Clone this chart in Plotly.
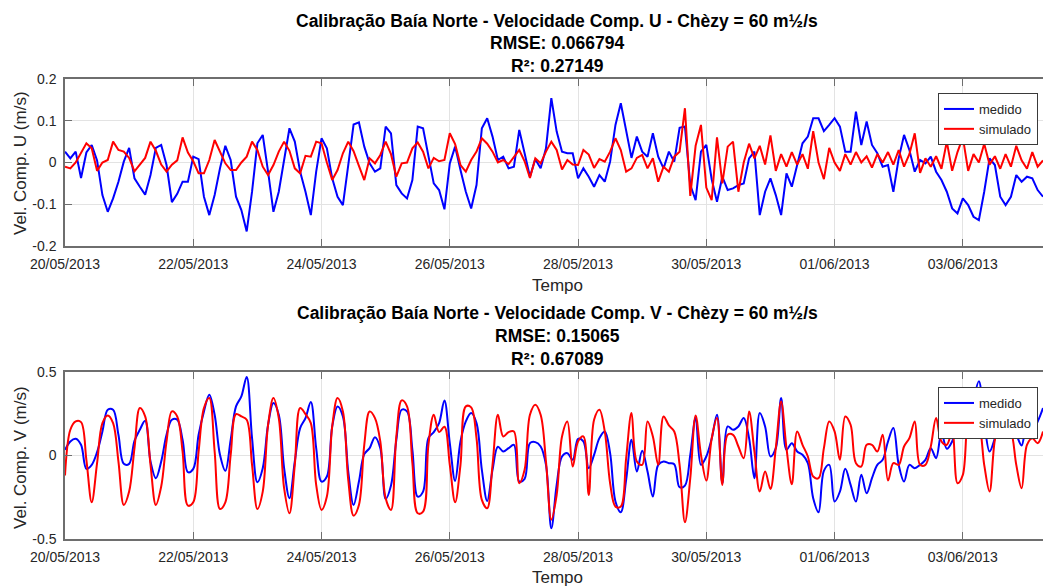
import pandas as pd
import plotly.graph_objects as go

# Samples every 2 h starting 20/05/2013 00:00
inicio = "2013-05-20 00:00"
passo = "2h"

# Componente U (m/s) - medido
u_medido = [
    0.026, 0.010, 0.026, -0.037, 0.024, 0.042, 0.005, -0.078, -0.118, -0.086, -0.046, 0.002,
    0.035, -0.038, -0.058, -0.077, -0.030, 0.035, 0.042, -0.006, -0.095, -0.075, -0.046, -0.046,
    0.014, 0.008, -0.082, -0.126, -0.078, -0.014, 0.040, 0.006, -0.082, -0.114, -0.165, -0.070,
    0.046, 0.066, -0.022, -0.118, -0.070, 0.010, 0.082, 0.050, -0.022, -0.070, -0.126, -0.022,
    0.058, 0.034, -0.038, -0.082, -0.102, -0.006, 0.091, 0.096, 0.038, -0.002, -0.022, -0.014,
    0.086, 0.070, -0.054, -0.074, -0.086, -0.042, 0.086, 0.082, 0.014, -0.050, -0.066, -0.112,
    -0.002, 0.038, -0.018, -0.070, -0.110, -0.054, 0.082, 0.106, 0.062, 0.006, 0.014, -0.014,
    -0.010, 0.078, 0.022, -0.034, 0.008, -0.014, 0.034, 0.154, 0.074, 0.026, 0.022, 0.022,
    -0.038, -0.014, -0.034, -0.058, -0.030, -0.046, 0.002, 0.090, 0.142, 0.074, 0.011, 0.062,
    0.026, 0.014, 0.070, 0.014, -0.014, 0.026, 0.002, 0.083, 0.086, -0.054, -0.090, 0.026,
    0.042, -0.040, -0.094, -0.034, -0.066, -0.062, -0.054, -0.050, 0.010, 0.026, -0.126, -0.070,
    -0.038, -0.078, -0.126, -0.026, -0.058, -0.006, 0.046, 0.062, 0.106, 0.106, 0.075, 0.090,
    0.106, 0.086, 0.026, 0.026, 0.122, 0.042, 0.098, 0.042, 0.022, -0.010, -0.006, -0.070,
    0.010, 0.066, 0.030, -0.022, 0.006, -0.002, 0.014, -0.022, -0.042, -0.070, -0.110, -0.122,
    -0.086, -0.102, -0.130, -0.138, -0.070, 0.010, -0.006, -0.082, -0.102, -0.082, -0.030, -0.046,
    -0.034, -0.038, -0.066, -0.082,
]

# Componente U (m/s) - simulado
u_simulado = [
    -0.010, -0.014, 0.000, 0.022, 0.046, 0.034, -0.020, 0.000, 0.006, 0.050, 0.030, 0.026,
    0.011, -0.021, -0.006, 0.011, 0.050, 0.028, -0.005, -0.022, -0.005, 0.005, 0.060, 0.024,
    0.003, -0.026, -0.026, 0.006, 0.054, 0.026, -0.002, -0.018, -0.018, 0.000, 0.014, 0.050,
    0.030, -0.010, -0.030, -0.006, 0.026, 0.050, 0.028, -0.014, -0.026, 0.016, 0.014, 0.050,
    0.046, 0.000, -0.042, -0.018, 0.022, 0.050, 0.027, -0.008, -0.042, 0.010, -0.002, 0.018,
    0.050, 0.020, -0.034, -0.002, 0.000, 0.034, 0.048, 0.026, -0.014, 0.011, 0.003, 0.006,
    0.070, 0.044, -0.006, -0.022, 0.006, 0.026, 0.058, 0.045, 0.026, 0.000, 0.006, -0.004,
    0.014, 0.030, 0.003, -0.037, 0.010, -0.002, 0.026, 0.050, 0.030, -0.017, 0.006, -0.005,
    -0.006, 0.030, 0.019, -0.013, 0.008, 0.002, 0.026, 0.058, 0.030, -0.022, -0.014, 0.011,
    0.018, -0.014, 0.010, -0.046, -0.010, -0.022, 0.014, 0.026, 0.130, -0.080, 0.040, 0.090,
    -0.060, -0.090, 0.060, -0.050, 0.038, 0.050, -0.070, 0.000, 0.045, 0.010, 0.040, -0.005,
    0.065, -0.020, 0.020, -0.010, 0.025, -0.005, 0.020, -0.015, 0.075, 0.000, -0.040, 0.035,
    0.000, -0.020, 0.020, -0.005, 0.025, 0.000, 0.015, -0.012, 0.020, 0.000, 0.025, -0.005,
    0.030, -0.010, 0.020, 0.070, -0.025, 0.010, -0.010, 0.015, -0.015, 0.050, -0.020, 0.025,
    0.060, -0.020, 0.020, 0.000, 0.045, -0.005, 0.015, -0.015, 0.020, -0.010, 0.040, 0.005,
    -0.015, 0.025, -0.010, 0.005,
]

# Componente V (m/s) - medido
v_medido = [
    0.034, 0.084, 0.100, 0.064, -0.080, -0.056, 0.020, 0.144, 0.274, 0.274, 0.124, -0.050,
    -0.050, 0.088, 0.154, 0.208, -0.036, -0.136, -0.036, 0.124, 0.214, 0.214, 0.094, -0.100,
    -0.080, 0.124, 0.264, 0.364, 0.244, 0.004, -0.092, 0.094, 0.294, 0.354, 0.470, 0.104,
    -0.160, -0.076, 0.184, 0.314, 0.244, -0.076, -0.256, -0.036, 0.164, 0.224, 0.320, 0.044,
    -0.156, -0.126, 0.174, 0.294, 0.234, -0.096, -0.296, -0.156, 0.008, 0.044, 0.110, 0.044,
    -0.260, -0.180, 0.094, 0.274, 0.264, 0.034, -0.246, -0.216, 0.104, 0.140, 0.194, 0.330,
    0.074, -0.152, 0.084, 0.204, 0.254, 0.194, -0.086, -0.272, -0.086, 0.052, 0.024, 0.044,
    0.064, -0.156, -0.140, 0.074, 0.080, 0.054, -0.056, -0.436, -0.176, -0.006, 0.014, -0.026,
    0.100, 0.084, -0.076, 0.004, 0.104, 0.144, 0.014, -0.276, -0.340, -0.146, 0.094, -0.096,
    0.028, -0.096, -0.246, -0.056, -0.036, -0.046, -0.052, -0.190, -0.180, 0.004, 0.224, -0.056,
    -0.006, 0.100, 0.244, -0.166, 0.174, 0.154, 0.174, 0.224, 0.104, -0.136, 0.254, 0.174,
    -0.006, 0.044, 0.344, 0.034, 0.074, 0.024, 0.004, -0.046, -0.256, -0.340, -0.092, -0.056,
    -0.276, -0.216, -0.080, -0.176, -0.276, -0.116, -0.226, -0.136, -0.056, -0.026, 0.084, 0.164,
    -0.056, -0.156, -0.056, -0.076, -0.056, -0.026, 0.044, -0.016, 0.134, 0.040, 0.084, 0.188,
    0.104, 0.154, 0.324, 0.444, 0.204, 0.024, 0.104, 0.234, 0.244, 0.174, 0.124, 0.060,
    0.188, 0.154, 0.204, 0.284,
]

# Componente V (m/s) - simulado
v_simulado = [
    -0.120, 0.154, 0.204, 0.200, -0.026, -0.280, -0.046, 0.194, 0.240, 0.194, -0.036, -0.296,
    -0.216, 0.044, 0.284, 0.234, -0.056, -0.296, -0.186, 0.084, 0.264, 0.234, 0.024, -0.300,
    -0.280, 0.024, 0.284, 0.344, 0.024, -0.320, -0.280, 0.004, 0.248, 0.234, 0.214, -0.056,
    -0.320, -0.216, 0.184, 0.344, 0.224, -0.196, -0.346, -0.056, 0.284, 0.248, 0.194, -0.176,
    -0.326, -0.246, 0.174, 0.344, 0.264, -0.146, -0.360, -0.296, 0.064, 0.264, 0.224, 0.084,
    -0.256, -0.326, 0.114, 0.330, 0.294, -0.046, -0.346, -0.336, 0.064, 0.244, 0.140, 0.172,
    -0.056, -0.280, -0.056, 0.294, 0.288, 0.104, -0.266, -0.316, -0.056, 0.244, 0.114, 0.140,
    0.144, -0.166, -0.086, 0.244, 0.304, 0.244, -0.036, -0.384, -0.236, 0.114, 0.204, -0.066,
    0.084, 0.114, -0.236, 0.214, 0.274, 0.144, -0.166, -0.306, -0.306, -0.016, 0.254, -0.036,
    -0.056, 0.204, 0.114, -0.056, 0.234, 0.180, 0.144, -0.056, -0.400, -0.136, 0.240, 0.004,
    -0.150, 0.100, 0.224, -0.176, 0.124, 0.124, 0.054, -0.016, 0.264, 0.024, -0.216, -0.096,
    -0.200, 0.044, 0.324, 0.044, -0.172, 0.144, 0.064, -0.006, -0.126, -0.136, 0.044, 0.204,
    0.144, -0.026, 0.234, 0.184, -0.046, -0.066, 0.064, 0.064, 0.024, 0.124, -0.150, -0.046,
    -0.056, 0.054, 0.104, 0.204, -0.056, -0.056, 0.054, 0.224, 0.084, 0.064, 0.144, -0.166,
    -0.116, 0.204, 0.124, 0.164, -0.056, -0.216, 0.094, 0.204, 0.184, 0.144, -0.056, -0.196,
    0.064, 0.104, 0.074, 0.144,
]

tempo = pd.date_range(inicio, periods=len(u_medido), freq=passo)

# Tick dates and labels
datas_ticks = pd.date_range("2013-05-20", "2013-06-03", freq="2D")
u_ticks = [-0.2, -0.1, 0, 0.1, 0.2]
u_ticktext = ["-0.2", "-0.1", "0", "0.1", "0.2"]
v_ticks = [-0.5, 0, 0.5]
v_ticktext = ["-0.5", "0", "0.5"]

titulo_u = ["Calibração Baía Norte - Velocidade Comp. U - Chèzy = 60 m½/s",
            "RMSE: 0.066794", "R²: 0.27149"]
titulo_v = ["Calibração Baía Norte - Velocidade Comp. V - Chèzy = 60 m½/s",
            "RMSE: 0.15065", "R²: 0.67089"]

W, H = 1043, 587
FONTE = "Liberation Sans, Arial, Helvetica, sans-serif"
AZUL = "#0000FF"
VERMELHO = "#FF0000"
EIXO = "#6e6e6e"
GRADE = "#e3e3e3"
TEXTO = "#262626"


def px_x(p):
    return p / W


def px_y(p):
    return 1 - p / H


fig = go.Figure()

fig.add_trace(go.Scatter(x=tempo, y=u_medido, name="medido", mode="lines",
                         line=dict(color=AZUL, width=2), xaxis="x", yaxis="y",
                         legend="legend"))
fig.add_trace(go.Scatter(x=tempo, y=u_simulado, name="simulado", mode="lines",
                         line=dict(color=VERMELHO, width=2), xaxis="x", yaxis="y",
                         legend="legend"))
fig.add_trace(go.Scatter(x=tempo, y=v_medido, name="medido", mode="lines",
                         line=dict(color=AZUL, width=2, shape="spline", smoothing=1.0),
                         xaxis="x2", yaxis="y2", legend="legend2"))
fig.add_trace(go.Scatter(x=tempo, y=v_simulado, name="simulado", mode="lines",
                         line=dict(color=VERMELHO, width=2, shape="spline", smoothing=1.0),
                         xaxis="x2", yaxis="y2", legend="legend2"))

x_range = [tempo[0], pd.Timestamp("2013-06-04 06:00")]
dom_x = [px_x(65), 1.0]

eixo_x = dict(
    domain=dom_x, range=x_range, type="date",
    tickvals=list(datas_ticks), tickformat="%d/%m/%Y",
    ticks="inside", ticklen=7, tickcolor=EIXO, tickwidth=1,
    showline=True, linecolor=EIXO, linewidth=1.5, mirror="ticks",
    showgrid=True, gridcolor=GRADE, gridwidth=1, zeroline=False,
    tickfont=dict(family=FONTE, size=14, color=TEXTO),
    ticklabelstandoff=4, automargin=False,
)
eixo_y = dict(
    ticks="inside", ticklen=7, tickcolor=EIXO, tickwidth=1,
    showline=True, linecolor=EIXO, linewidth=1.5, mirror=False,
    showgrid=True, gridcolor=GRADE, gridwidth=1, zeroline=False,
    tickfont=dict(family=FONTE, size=14, color=TEXTO),
    ticklabelstandoff=4, automargin=False,
)

legenda = dict(xanchor="left", yanchor="top", bgcolor="white",
               bordercolor="#3a3a3a", borderwidth=1,
               font=dict(family=FONTE, size=13, color=TEXTO),
               itemwidth=30, tracegroupgap=0)

fig.update_layout(
    width=W, height=H,
    margin=dict(l=0, r=0, t=0, b=0),
    paper_bgcolor="white", plot_bgcolor="white",
    font=dict(family=FONTE, color=TEXTO),
    xaxis=dict(eixo_x, anchor="y"),
    yaxis=dict(eixo_y, anchor="x", domain=[px_y(246), px_y(79)], range=[-0.2, 0.2],
               tickvals=u_ticks, ticktext=u_ticktext),
    xaxis2=dict(eixo_x, anchor="y2"),
    yaxis2=dict(eixo_y, anchor="x2", domain=[px_y(539), px_y(372)], range=[-0.5, 0.5],
                tickvals=v_ticks, ticktext=v_ticktext),
    legend=dict(legenda, x=px_x(938), y=px_y(93)),
    legend2=dict(legenda, x=px_x(938), y=px_y(387)),
    showlegend=True,
)

anotacoes = []
for linhas, ys in ((titulo_u, (21, 43, 66)), (titulo_v, (313, 336, 359))):
    for texto, yy in zip(linhas, ys):
        anotacoes.append(dict(text=f"<b>{texto}</b>", x=px_x(557), y=px_y(yy),
                              xref="paper", yref="paper", xanchor="center",
                              yanchor="middle", showarrow=False,
                              font=dict(family=FONTE, size=17.5, color="black")))

for yy in (285, 577):
    anotacoes.append(dict(text="Tempo", x=px_x(557), y=px_y(yy), xref="paper",
                          yref="paper", xanchor="center", yanchor="middle",
                          showarrow=False, font=dict(family=FONTE, size=17, color=TEXTO)))

for texto, yy in (("Vel. Comp. U (m/s)", 163), ("Vel. Comp. V (m/s)", 458)):
    anotacoes.append(dict(text=texto, x=px_x(20), y=px_y(yy), xref="paper",
                          yref="paper", xanchor="center", yanchor="middle",
                          textangle=-90, showarrow=False,
                          font=dict(family=FONTE, size=17, color=TEXTO)))

fig.update_layout(annotations=anotacoes)

fig.write_html("out.html")
